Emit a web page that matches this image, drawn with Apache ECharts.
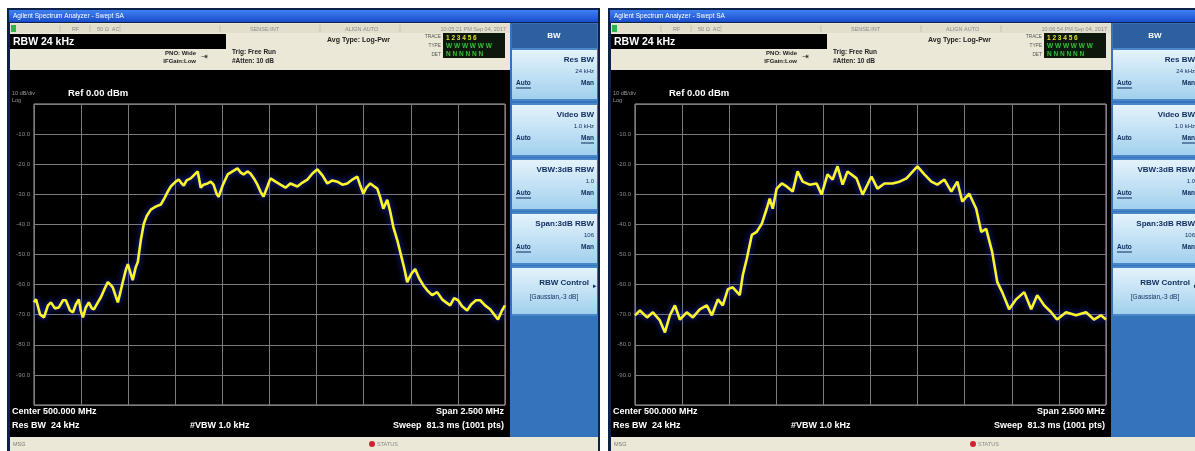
<!DOCTYPE html>
<html><head><meta charset="utf-8">
<script src="https://cdn.jsdelivr.net/npm/echarts@6/dist/echarts.min.js"></script>
<style>html,body{margin:0;padding:0;background:#fff;}#c{width:1195px;height:451px;}</style>
</head><body><div id="c"></div>
<script>
// ---- data (frequency in MHz, amplitude in dBm) ----
const freqL = [498.750,498.761,498.782,498.803,498.824,498.840,498.861,498.882,498.904,498.919,498.941,498.957,498.972,498.988,498.999,499.010,499.025,499.041,499.057,499.068,499.089,499.105,499.126,499.142,499.158,499.168,499.184,499.195,499.211,499.221,499.237,499.248,499.264,499.274,499.290,499.301,499.317,499.333,499.349,499.370,499.396,499.423,499.444,499.460,499.476,499.486,499.502,499.518,499.534,499.545,499.560,499.582,499.603,499.619,499.635,499.650,499.672,499.688,499.703,499.719,499.730,499.751,499.778,499.804,499.830,499.846,499.862,499.883,499.899,499.921,499.936,499.952,499.968,499.989,500.005,500.032,500.058,500.085,500.111,500.148,500.175,500.201,500.228,500.254,500.281,500.307,500.334,500.360,500.387,500.413,500.440,500.466,500.482,500.498,500.514,500.535,500.556,500.572,500.588,500.604,500.625,500.641,500.657,500.678,500.694,500.715,500.731,500.752,500.773,500.794,500.816,500.837,500.863,500.890,500.916,500.937,500.959,500.980,501.001,501.022,501.049,501.070,501.096,501.118,501.144,501.171,501.192,501.213,501.234,501.250];
const ampL = [-65.9,-64.9,-69.9,-70.9,-66.9,-65.9,-67.9,-67.6,-65.2,-65.2,-68.6,-69.2,-66.6,-64.9,-68.9,-70.9,-67.6,-65.9,-67.9,-68.2,-65.9,-64.2,-61.2,-59.2,-60.2,-60.9,-63.9,-65.9,-61.9,-59.2,-55.2,-53.2,-56.5,-58.5,-54.2,-52.5,-45.2,-39.8,-37.1,-35.1,-34.1,-33.4,-31.1,-29.1,-27.4,-26.8,-25.8,-25.1,-26.4,-27.1,-25.4,-24.7,-23.4,-22.4,-27.8,-26.8,-26.4,-25.8,-26.8,-29.8,-30.8,-27.1,-23.4,-22.4,-21.4,-22.7,-23.4,-22.4,-23.1,-25.1,-26.8,-29.1,-30.8,-27.4,-24.7,-25.8,-26.8,-27.8,-26.4,-27.4,-26.1,-25.1,-23.1,-21.7,-23.7,-26.4,-25.4,-25.8,-26.8,-26.4,-25.1,-24.1,-27.1,-29.8,-27.8,-26.4,-27.4,-28.1,-31.1,-34.8,-31.8,-35.8,-40.8,-45.2,-49.2,-54.5,-59.2,-56.5,-54.8,-57.9,-60.2,-61.9,-63.5,-62.5,-64.9,-65.9,-66.9,-64.5,-65.2,-67.2,-68.6,-66.6,-65.2,-65.2,-66.9,-68.2,-69.9,-71.6,-68.6,-66.9];
const freqR = [498.750,498.776,498.814,498.845,498.882,498.909,498.935,498.962,498.988,499.025,499.057,499.094,499.131,499.158,499.190,499.216,499.243,499.269,499.306,499.322,499.343,499.370,499.396,499.423,499.449,499.465,499.481,499.502,499.529,499.555,499.587,499.613,499.640,499.677,499.714,499.740,499.772,499.799,499.825,499.852,499.878,499.926,499.958,500.005,500.037,500.074,500.117,500.154,500.191,500.249,500.286,500.323,500.355,500.392,500.429,500.461,500.487,500.524,500.561,500.588,500.614,500.646,500.673,500.699,500.736,500.773,500.816,500.853,500.885,500.922,500.959,500.990,501.038,501.091,501.144,501.186,501.223,501.250];
const ampR = [-70.2,-68.6,-70.9,-69.2,-71.9,-75.9,-70.2,-66.9,-71.6,-69.2,-70.9,-68.2,-66.9,-70.2,-64.9,-66.9,-61.5,-60.9,-63.5,-56.9,-51.5,-43.5,-42.5,-39.8,-34.8,-31.4,-34.8,-28.1,-26.4,-27.4,-29.1,-22.4,-25.8,-26.8,-26.4,-30.1,-23.4,-25.1,-20.7,-26.8,-22.4,-24.7,-30.1,-24.1,-28.1,-26.4,-26.4,-25.8,-24.7,-20.7,-23.4,-25.8,-26.8,-25.1,-29.1,-25.8,-32.4,-29.8,-34.8,-42.5,-41.5,-49.2,-59.2,-62.5,-68.2,-64.9,-62.5,-68.2,-63.5,-66.9,-69.2,-71.6,-69.2,-70.2,-69.2,-71.6,-70.2,-71.6];
const xRange = [498.75, 501.25];   // Center 500 MHz, Span 2.5 MHz
const yRange = [-100, 0];          // Ref 0.00 dBm, 10 dB/div
const panelDates = ['10:05:21 PM Sep 04, 2017', '10:06:54 PM Sep 04, 2017'];

// ---- layout ----
const panelX = [0, 601];
const F = '"Liberation Sans", Arial, sans-serif';
const chart = echarts.init(document.getElementById('c'), null, {renderer:'canvas'});

function panel(ox, pi) {
  const els = [];
  const R = (x, y, w, h, fill, z = -5, extra = {}) => els.push({type:'rect', z, silent:true,
      shape:{x:ox + x, y, width:w, height:h}, style:Object.assign({fill}, extra)});
  const T = (x, y, text, size, color, o = {}) => els.push({type:'text', z:20, silent:true,
      x:ox + x, y, style:{text, fill:color, font:(o.bold ? 'bold ' : '') + size + 'px ' + F,
      textAlign:o.align || 'left', align:o.align || 'left', textVerticalAlign:'middle', verticalAlign:'middle'}});
  const L = (x1, y1, x2, y2, color, w = 1) => els.push({type:'line', z:20, silent:true,
      shape:{x1:ox + x1, y1, x2:ox + x2, y2}, style:{stroke:color, lineWidth:w}});
  const grad = (a, b) => new echarts.graphic.LinearGradient(0, 0, 0, 1, [{offset:0, color:a}, {offset:1, color:b}]);

  R(7, 8, 593, 443, '#0e2149', -9);
  R(9, 10, 589, 12, grad('#3f82f2', '#1a4ccc'), -8);
  T(13, 16, 'Agilent Spectrum Analyzer - Swept SA', 6.5, '#ffffff');
  // header
  R(10, 23, 500, 47, '#ece8d7', -8);
  R(10, 24, 500, 9, '#e3dfcd', -7);
  R(11, 25, 5, 7, '#2db34a', -6);
  [60, 90, 120, 220, 320, 400].forEach(x => L(x, 25, x, 32, '#c8c3b0'));
  T(72, 29, 'RF', 5.5, '#8a8a8a');
  T(97, 29, '50 Ω  AC', 5.5, '#8a8a8a');
  T(250, 29, 'SENSE:INT', 5.5, '#8a8a8a');
  T(345, 29, 'ALIGN AUTO', 5.5, '#8a8a8a');
  T(506, 29, panelDates[pi], 5.5, '#8a8a8a', {align:'right'});
  R(10, 34, 216, 15, '#000000', -6);
  T(13, 42, 'RBW 24 kHz', 10.5, '#ffffff', {bold:true});
  T(196, 53, 'PNO: Wide', 6, '#222', {align:'right', bold:true});
  T(196, 61, 'IFGain:Low', 6, '#222', {align:'right', bold:true});
  T(201, 57, '⇥', 8, '#222');
  T(232, 52, 'Trig: Free Run', 6.5, '#222', {bold:true});
  T(232, 61, '#Atten: 10 dB', 6.5, '#222', {bold:true});
  T(327, 40, 'Avg Type: Log-Pwr', 7, '#222', {bold:true});
  T(441, 37, 'TRACE', 4.8, '#555', {align:'right'});
  T(441, 46, 'TYPE', 4.8, '#555', {align:'right'});
  T(441, 55, 'DET', 4.8, '#555', {align:'right'});
  R(443, 33, 62, 25, '#0c180c', -6);
  T(446, 38, '1 2 3 4 5 6', 6.5, '#e0e030', {bold:true});
  T(446, 46, 'W W W W W W', 6.5, '#37c03a', {bold:true});
  T(446, 54, 'N N N N N N', 6.5, '#37c03a', {bold:true});
  // display
  R(10, 70, 500, 367, '#000000', -8);
  T(12, 93, '10 dB/div', 5.5, '#9a9a9a');
  T(12, 100, 'Log', 5.5, '#9a9a9a');
  T(68, 93, 'Ref 0.00 dBm', 9.5, '#ffffff', {bold:true});
  T(12, 412, 'Center 500.000 MHz', 9, '#ffffff', {bold:true});
  T(12, 426, 'Res BW  24 kHz', 9, '#ffffff', {bold:true});
  T(190, 426, '#VBW 1.0 kHz', 9, '#ffffff', {bold:true});
  T(504, 412, 'Span 2.500 MHz', 9, '#ffffff', {align:'right', bold:true});
  T(504, 426, 'Sweep  81.3 ms (1001 pts)', 9, '#ffffff', {align:'right', bold:true});
  // status bar
  R(10, 437, 588, 14, '#ece8d7', -8);
  T(13, 444, 'MSG', 5.5, '#777');
  els.push({type:'circle', z:20, silent:true, shape:{cx:ox + 372, cy:444, r:3}, style:{fill:'#d02030'}});
  T(377, 444, 'STATUS', 5.5, '#888');
  // softkeys
  R(510, 23, 88, 414, '#3574bd', -8);
  R(512, 24, 85, 24, '#2e609f', -7);
  T(554, 36, 'BW', 8, '#ffffff', {align:'center', bold:true});
  const keys = [
    {y:50, h:49, t:'Res BW', v:'24 kHz', u:'a'},
    {y:105, h:50, t:'Video BW', v:'1.0 kHz', u:'m'},
    {y:160, h:49, t:'VBW:3dB RBW', v:'1.0', u:'a'},
    {y:214, h:49, t:'Span:3dB RBW', v:'106', u:'a'},
  ];
  keys.forEach(k => {
    R(512, k.y - 2, 85, k.h + 4, '#4a87c8', -7);
    R(512, k.y, 85, k.h, grad('#e4f3fb', '#a2d0ee'), -6);
    T(594, k.y + 10, k.t, 8, '#0d2b5e', {align:'right', bold:true});
    T(594, k.y + 21, k.v, 6, '#0d2b5e', {align:'right'});
    T(516, k.y + 33, 'Auto', 6.5, '#0d2b5e', {bold:true});
    T(594, k.y + 33, 'Man', 6.5, '#0d2b5e', {align:'right', bold:true});
    if (k.u === 'a') L(516, k.y + 38, 531, k.y + 38, '#0d2b5e');
    else L(581, k.y + 38, 594, k.y + 38, '#0d2b5e');
  });
  R(512, 266, 85, 50, '#4a87c8', -7);
  R(512, 268, 85, 46, grad('#e4f3fb', '#a2d0ee'), -6);
  T(589, 283, 'RBW Control', 8, '#0d2b5e', {align:'right', bold:true});
  T(593, 286, '▸', 7, '#0d2b5e');
  T(554, 297, '[Gaussian,-3 dB]', 6.5, '#0d2b5e', {align:'center'});
  return els;
}

const graphics = [];
panelX.forEach((ox, i) => graphics.push(...panel(ox, i)));

const traces = [[freqL, ampL], [freqR, ampR]];

chart.setOption({
  animation:false,
  backgroundColor:'#ffffff',
  graphic:{elements:graphics},
  grid: panelX.map(ox => ({left:ox + 34, top:104, width:471, height:301, show:true,
        borderColor:'#a8a8a8', borderWidth:1, backgroundColor:'transparent'})),
  xAxis: panelX.map((ox, i) => ({type:'value', gridIndex:i, min:xRange[0], max:xRange[1], interval:0.25,
        axisLabel:{show:false}, axisTick:{show:false}, axisLine:{show:false},
        splitLine:{show:true, lineStyle:{color:'#7c7c7c', width:1}}})),
  yAxis: panelX.map((ox, i) => ({type:'value', gridIndex:i, min:yRange[0], max:yRange[1], interval:10,
        axisTick:{show:false}, axisLine:{show:false},
        axisLabel:{show:true, color:'#8c8c8c', fontSize:6, margin:4, fontFamily:F,
          formatter:v => (v === 0 || v === -100) ? '' : v.toFixed(1)},
        splitLine:{show:true, lineStyle:{color:'#7c7c7c', width:1}}})),
  series: traces.map((tr, i) => ({
    type:'line', xAxisIndex:i, yAxisIndex:i, showSymbol:false, z:5,
    data: tr[0].map((f, j) => [f, tr[1][j]]),
    lineStyle:{color:'#fbf52a', width:2.6, shadowColor:'rgba(30,50,255,0.95)', shadowBlur:6},
  })),
});
</script>
</body></html>
